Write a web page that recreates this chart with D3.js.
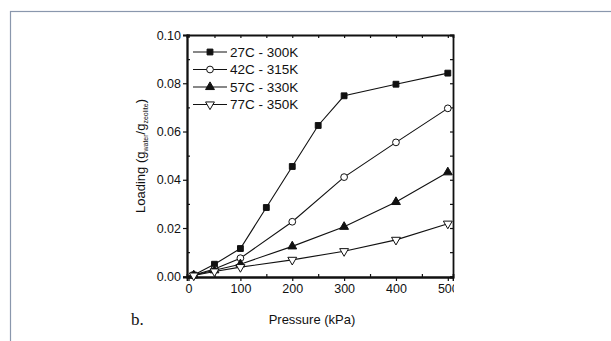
<!DOCTYPE html>
<html>
<head>
<meta charset="utf-8">
<script src="https://cdn.jsdelivr.net/npm/d3@7"></script>
<style>
	body { margin: 0; background: white; }
	text { font-family: "Liberation Sans", Arial, sans-serif; fill: #111; }
</style>
</head>
<body>
<div id="chart"></div>
<script>
// pressures (kPa) shared by every series
const pressure = [10, 50, 100, 150, 200, 250, 300, 400, 500];
const pressureShort = [10, 50, 100, 200, 300, 400, 500];

// loading values
const load300 = [0.0005, 0.005, 0.0115, 0.0285, 0.0455, 0.0625, 0.0748, 0.0796, 0.0842];
const load315 = [0.0005, 0.003, 0.0075, 0.0226, 0.0411, 0.0555, 0.0696];
const load330 = [0.0004, 0.0025, 0.005, 0.0124, 0.0205, 0.0308, 0.0431];
const load350 = [0.0003, 0.002, 0.0038, 0.0068, 0.0104, 0.0151, 0.0218];

const seriesNames = ['27C - 300K', '42C - 315K', '57C - 330K', '77C - 350K'];
const xTicks = [0, 100, 200, 300, 400, 500];
const yTicks = [0.00, 0.02, 0.04, 0.06, 0.08, 0.10];

let width = 611,
	height = 341,
	margin = { top: 35, left: 187, right: 158, bottom: 64 };

let innerW = width - margin.left - margin.right,
	innerH = height - margin.top - margin.bottom;

let svg = d3.select('#chart')
	.append('svg')
	.attr('width', width)
	.attr('height', height);

// outer grey-blue frame of the figure
svg.append('rect')
	.attr('x', 10.5)
	.attr('y', 11.5)
	.attr('width', 700)
	.attr('height', 400)
	.attr('fill', 'none')
	.attr('stroke', '#8a97ad')
	.attr('stroke-width', 1.2);

let x = d3.scaleLinear().domain([-3, 510]).range([0, innerW]);
let y = d3.scaleLinear().domain([-0.0003, 0.1]).range([innerH, 0]);

let g = svg.append('g')
	.attr('transform', 'translate(' + margin.left + ',' + margin.top + ')');

// clip so that the last x label is cut like in the scan
svg.append('clipPath').attr('id', 'cut')
	.append('rect').attr('x', -100).attr('y', -50).attr('width', innerW + 101).attr('height', innerH + 120);

// bottom axis: major ticks outward, minor inward
g.append('g')
	.attr('transform', 'translate(0,' + innerH + ')')
	.attr('clip-path', 'url(#cut)')
	.call(d3.axisBottom(x).tickValues(xTicks).tickSize(4).tickPadding(3).tickFormat(d3.format('d')));
g.append('g')
	.attr('transform', 'translate(0,' + innerH + ')')
	.call(d3.axisBottom(x).tickValues(d3.range(50, 510, 100)).tickSize(-3).tickFormat(''));

// left axis
g.append('g')
	.call(d3.axisLeft(y).tickValues(yTicks).tickSize(4).tickPadding(2).tickFormat(d3.format('.2f')));
g.append('g')
	.call(d3.axisLeft(y).tickValues(d3.range(0.01, 0.1, 0.02)).tickSize(-3).tickFormat(''));

// top and right axes, ticks inside
g.append('g')
	.call(d3.axisTop(x).tickValues(d3.range(0, 510, 50)).tickSize(-3).tickFormat(''));
g.append('g')
	.attr('transform', 'translate(' + innerW + ',0)')
	.call(d3.axisRight(y).tickValues(d3.range(0, 0.1, 0.01)).tickSize(-3).tickFormat(''));

g.selectAll('.domain').attr('stroke', '#111').attr('stroke-width', 1.8);
g.selectAll('.tick line').attr('stroke', '#111').attr('stroke-width', 1.2);
g.selectAll('.tick text').style('font-size', '12.5px').attr('fill', '#111');

// marker shapes
let symbols = [d3.symbolSquare, d3.symbolCircle, d3.symbolTriangle, d3.symbolTriangle];
let fills = ['#111', 'white', '#111', 'white'];
let rotations = [0, 0, 0, 180];
let sizes = [34, 36, 34, 34];

let allData = [
	d3.zip(pressure, load300),
	d3.zip(pressureShort, load315),
	d3.zip(pressureShort, load330),
	d3.zip(pressureShort, load350)
];

let line = d3.line()
	.x(function (d) { return x(d[0]); })
	.y(function (d) { return y(d[1]); });

allData.forEach(function (data, i) {
	g.append('path')
		.datum([[0, 0]].concat(data))
		.attr('d', line)
		.attr('fill', 'none')
		.attr('stroke', '#111')
		.attr('stroke-width', 1.1);

	g.selectAll('.pt' + i)
		.data(data)
		.enter()
		.append('path')
		.attr('d', d3.symbol().type(symbols[i]).size(sizes[i]))
		.attr('transform', function (d) { return 'translate(' + x(d[0]) + ',' + y(d[1]) + ') rotate(' + rotations[i] + ')'; })
		.attr('fill', fills[i])
		.attr('stroke', '#111')
		.attr('stroke-width', 1);
});

// legend
let legend = g.selectAll('.legend')
	.data(seriesNames)
	.enter()
	.append('g')
	.attr('transform', function (d, i) { return 'translate(6,' + (17 + i * 17.5) + ')'; });

legend.append('line')
	.attr('x1', 0).attr('x2', 34)
	.attr('stroke', '#111').attr('stroke-width', 1.1);

legend.append('path')
	.attr('d', function (d, i) { return d3.symbol().type(symbols[i]).size(sizes[i])(); })
	.attr('transform', function (d, i) { return 'translate(17,0) rotate(' + rotations[i] + ')'; })
	.attr('fill', function (d, i) { return fills[i]; })
	.attr('stroke', '#111');

legend.append('text')
	.attr('x', 37)
	.attr('dy', '0.36em')
	.style('font-size', '13.5px')
	.text(function (d) { return d; });

// axis titles
let yTitle = svg.append('text')
	.attr('transform', 'translate(145,' + (margin.top + innerH / 2) + ') rotate(-90)')
	.attr('text-anchor', 'middle')
	.style('font-size', '13px');
yTitle.append('tspan').text('Loading (g');
yTitle.append('tspan').attr('dy', 3).style('font-size', '7px').text('water');
yTitle.append('tspan').attr('dy', -3).text('/g');
yTitle.append('tspan').attr('dy', 3).style('font-size', '7px').text('zeolite');
yTitle.append('tspan').attr('dy', -3).text(')');

svg.append('text')
	.attr('x', margin.left + innerW / 2 - 8)
	.attr('y', 324)
	.attr('text-anchor', 'middle')
	.style('font-size', '13px')
	.text('Pressure (kPa)');

svg.append('text')
	.attr('x', 131)
	.attr('y', 325)
	.style('font-family', '"Liberation Serif", "Times New Roman", serif')
	.style('font-size', '17px')
	.text('b.');
</script>
</body>
</html>
